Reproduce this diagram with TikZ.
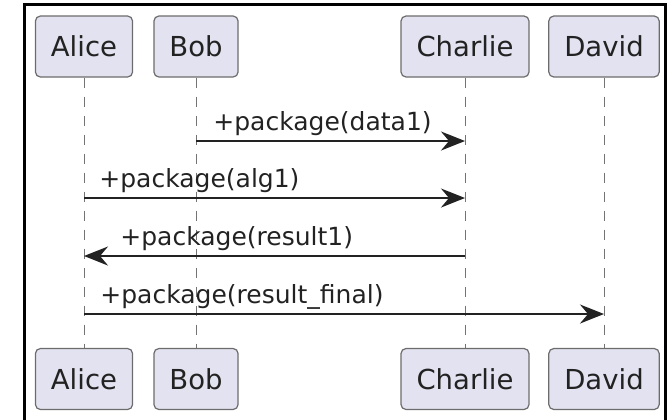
\documentclass[tikz,border=0pt]{standalone}
\usepackage{fontspec}
\setmainfont{DejaVu Sans}
\usetikzlibrary{arrows.meta}

\definecolor{lavande}{HTML}{E2E2F0}
\definecolor{encre}{HTML}{222222}

\tikzset{
  acteur/.style={draw=gray!85!black, line width=0.6pt, fill=lavande, rounded corners=2.5pt,
    inner xsep=7.75pt, minimum height=30.5pt, text=encre, font=\fontsize{13.75}{16}\selectfont},
  vie/.style={draw=gray!90!black, line width=0.5pt, dash pattern=on 5pt off 4.5pt},
  msg/.style={line width=1pt, draw=encre, -{Stealth[length=12pt,width=9.5pt,inset=4pt]}},
  etiq/.style={anchor=base west, inner sep=0pt, text=encre, font=\fontsize{12.5}{15}\selectfont}
}

\begin{document}
\begin{tikzpicture}[x=0.5pt, y=-0.5pt]
		\useasboundingbox (0,0) rectangle (672,419);

		% cadre
		\draw[line width=1.5pt] (24,425) -- (24,4) -- (665,4) -- (665,425);

		% participants en haut
		\node[acteur] (aliceH) at (84,46.5) {Alice};
		\node[acteur] (bobH) at (196,46.5) {Bob};
		\node[acteur] (charlieH) at (465,46.5) {Charlie};
		\node[acteur] (davidH) at (604,46.5) {David};

		% participants en bas
		\node[acteur] (aliceB) at (84,379) {Alice};
		\node[acteur] (bobB) at (196,379) {Bob};
		\node[acteur] (charlieB) at (465,379) {Charlie};
		\node[acteur] (davidB) at (604,379) {David};

		% lignes de vie
		\foreach \p in {alice,bob,charlie,david}
			\draw[vie] (\p H) -- (\p B);

		% hauteurs des messages
		\coordinate (r1) at (0,141);
		\coordinate (r2) at (0,198);
		\coordinate (r3) at (0,256);
		\coordinate (r4) at (0,314);

		% message data1
		\draw[msg] (bobH |- r1) -- (charlieH |- r1);
		\node[etiq] (m1) at (213,130) {+package(data1)};

		% message alg1
		\draw[msg] (aliceH |- r2) -- (charlieH |- r2);
		\node[etiq] (m2) at (99,187) {+package(alg1)};

		% message result1
		\draw[msg] (charlieH |- r3) -- (aliceH |- r3);
		\node[etiq] (m3) at (120,245) {+package(result1)};

		% message result_final
		\draw[msg] (aliceH |- r4) -- (davidH |- r4);
		\node[etiq] (m4) at (100,303) {+package(result\_final)};

\end{tikzpicture}
\end{document}
